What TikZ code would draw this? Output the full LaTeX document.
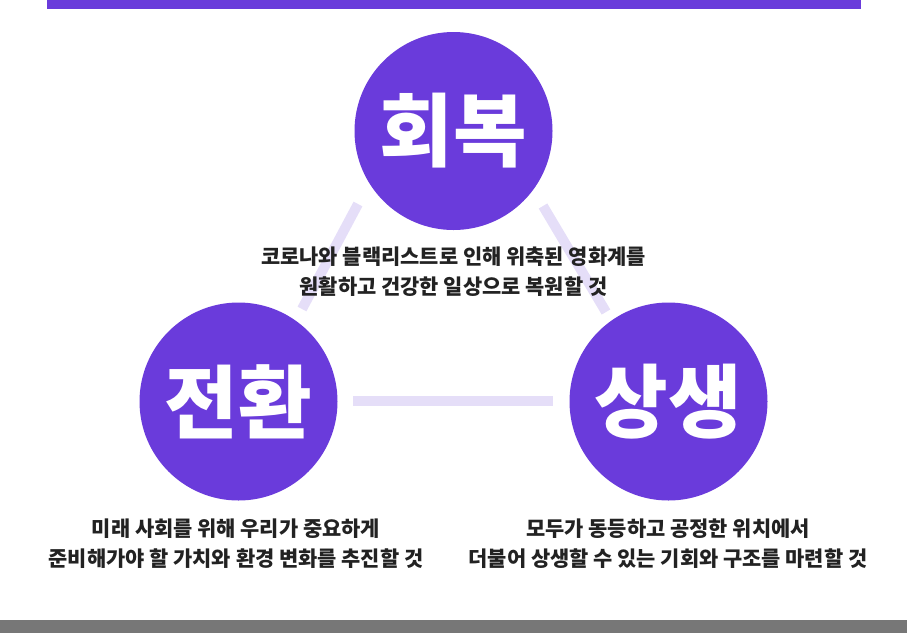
\documentclass[tikz,border=0pt]{standalone}
\usepackage{fontspec}
\newfontfamily\kr{Noto Sans CJK KR}
\newfontfamily\krblack{Noto Sans CJK KR Black}
\definecolor{purp}{HTML}{6A3BDB}
\definecolor{lav}{HTML}{E5DEF8}
\definecolor{ink}{HTML}{222222}
\definecolor{barg}{HTML}{777777}
\tikzset{
  conn/.style={draw=lav, line width=10pt, line cap=butt},
  bigc/.style={circle, fill=purp, minimum size=198pt, inner sep=0pt, text=white,
    font=\krblack\fontsize{80}{80}\selectfont},
  body/.style={align=center, text=ink, inner sep=0pt,
    font=\kr\bfseries\fontsize{20.9}{30}\selectfont}
}
\begin{document}
\begin{tikzpicture}[x=1pt,y=-1pt]
\useasboundingbox (0,0) rectangle (907,633);
\fill[purp] (47,0) rectangle (861,9);
\fill[barg] (0,620) rectangle (907,633);
\coordinate (la) at (358,204);
\coordinate (lb) at (302,309);
\coordinate (ra) at (543,206);
\coordinate (rb) at (606,312);
\coordinate (ha) at (353,401);
\coordinate (hb) at (553,401);
\draw[conn] (la) -- (lb);
\draw[conn] (ra) -- (rb);
\draw[conn] (ha) -- (hb);
\node[bigc] (top) at (453.5,131) {회복};
\node[bigc] (left) at (238.5,401.5) {전환};
\node[bigc] (right) at (668.5,401.5) {상생};
\node[body] (ttop) at (453.5,271.5) {코로나와 블랙리스트로 인해 위축된 영화계를\\원활하고 건강한 일상으로 복원할 것};
\node[body] (tleft) at (236,544) {미래 사회를 위해 우리가 중요하게\\준비해가야 할 가치와 환경 변화를 추진할 것};
\node[body] (tright) at (668,544) {모두가 동등하고 공정한 위치에서\\더불어 상생할 수 있는 기회와 구조를 마련할 것};
\end{tikzpicture}
\end{document}
